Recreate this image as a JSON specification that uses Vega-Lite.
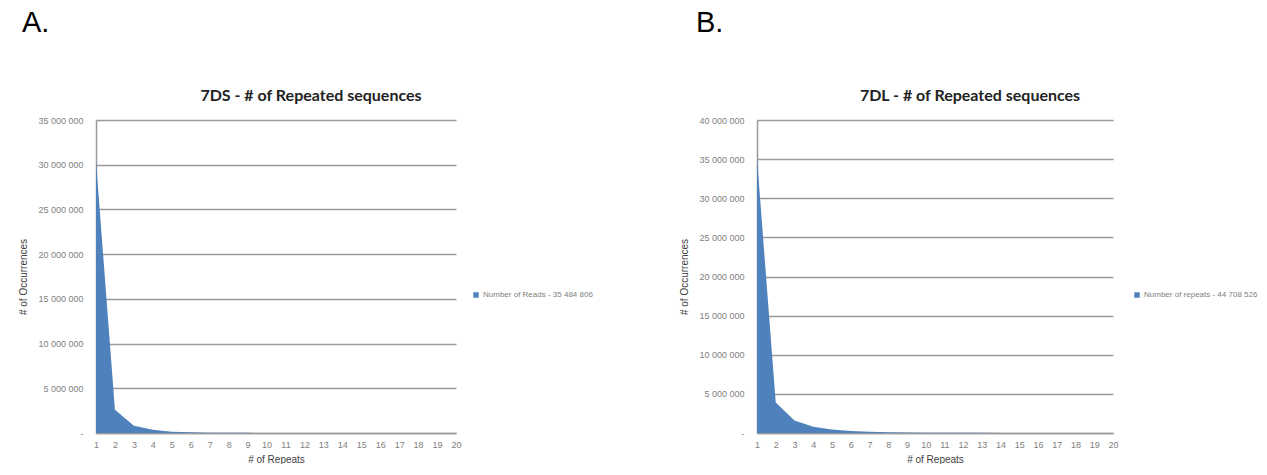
{
  "$schema": "https://vega.github.io/schema/vega-lite/v6.json",
  "padding": {"left": 18, "top": 9, "right": 0, "bottom": 0},
  "background": "white",
  "config": {
    "locale": {"number": {"decimal": ".", "thousands": " ", "grouping": [3], "currency": ["", ""]}},
    "view": {"stroke": null},
    "font": "Liberation Sans",
    "axis": {
      "labelFont": "Liberation Sans", "labelFontSize": 9, "labelColor": "#808080",
      "titleFont": "Liberation Sans", "titleFontSize": 10, "titleColor": "#404040", "titleFontWeight": "normal",
      "domainColor": "#9a9a9a", "domainWidth": 1.5, "ticks": false,
      "gridColor": "#9a9a9a", "gridWidth": 1.5
    },
    "legend": {"labelFont": "Liberation Sans", "labelFontSize": 8, "labelColor": "#808080", "symbolType": "square", "symbolSize": 30, "symbolStrokeWidth": 0, "labelLimit": 300, "labelOffset": 3}
  },
  "datasets": {
    "ds7DS": [
      {"repeats": 1, "occurrences": 30400000, "series": "Number of Reads - 35 484 806"},
      {"repeats": 2, "occurrences": 2600000, "series": "Number of Reads - 35 484 806"},
      {"repeats": 3, "occurrences": 800000, "series": "Number of Reads - 35 484 806"},
      {"repeats": 4, "occurrences": 350000, "series": "Number of Reads - 35 484 806"},
      {"repeats": 5, "occurrences": 150000, "series": "Number of Reads - 35 484 806"},
      {"repeats": 6, "occurrences": 70000, "series": "Number of Reads - 35 484 806"},
      {"repeats": 7, "occurrences": 40000, "series": "Number of Reads - 35 484 806"},
      {"repeats": 8, "occurrences": 25000, "series": "Number of Reads - 35 484 806"},
      {"repeats": 9, "occurrences": 15000, "series": "Number of Reads - 35 484 806"},
      {"repeats": 10, "occurrences": 10000, "series": "Number of Reads - 35 484 806"},
      {"repeats": 11, "occurrences": 8000, "series": "Number of Reads - 35 484 806"},
      {"repeats": 12, "occurrences": 6000, "series": "Number of Reads - 35 484 806"},
      {"repeats": 13, "occurrences": 5000, "series": "Number of Reads - 35 484 806"},
      {"repeats": 14, "occurrences": 4000, "series": "Number of Reads - 35 484 806"},
      {"repeats": 15, "occurrences": 3000, "series": "Number of Reads - 35 484 806"},
      {"repeats": 16, "occurrences": 2500, "series": "Number of Reads - 35 484 806"},
      {"repeats": 17, "occurrences": 2000, "series": "Number of Reads - 35 484 806"},
      {"repeats": 18, "occurrences": 1800, "series": "Number of Reads - 35 484 806"},
      {"repeats": 19, "occurrences": 1500, "series": "Number of Reads - 35 484 806"},
      {"repeats": 20, "occurrences": 1200, "series": "Number of Reads - 35 484 806"}
    ],
    "ds7DL": [
      {"repeats": 1, "occurrences": 35100000, "series": "Number of repeats - 44 708 526"},
      {"repeats": 2, "occurrences": 3900000, "series": "Number of repeats - 44 708 526"},
      {"repeats": 3, "occurrences": 1600000, "series": "Number of repeats - 44 708 526"},
      {"repeats": 4, "occurrences": 800000, "series": "Number of repeats - 44 708 526"},
      {"repeats": 5, "occurrences": 450000, "series": "Number of repeats - 44 708 526"},
      {"repeats": 6, "occurrences": 250000, "series": "Number of repeats - 44 708 526"},
      {"repeats": 7, "occurrences": 150000, "series": "Number of repeats - 44 708 526"},
      {"repeats": 8, "occurrences": 100000, "series": "Number of repeats - 44 708 526"},
      {"repeats": 9, "occurrences": 65000, "series": "Number of repeats - 44 708 526"},
      {"repeats": 10, "occurrences": 45000, "series": "Number of repeats - 44 708 526"},
      {"repeats": 11, "occurrences": 32000, "series": "Number of repeats - 44 708 526"},
      {"repeats": 12, "occurrences": 24000, "series": "Number of repeats - 44 708 526"},
      {"repeats": 13, "occurrences": 18000, "series": "Number of repeats - 44 708 526"},
      {"repeats": 14, "occurrences": 14000, "series": "Number of repeats - 44 708 526"},
      {"repeats": 15, "occurrences": 11000, "series": "Number of repeats - 44 708 526"},
      {"repeats": 16, "occurrences": 9000, "series": "Number of repeats - 44 708 526"},
      {"repeats": 17, "occurrences": 7500, "series": "Number of repeats - 44 708 526"},
      {"repeats": 18, "occurrences": 6000, "series": "Number of repeats - 44 708 526"},
      {"repeats": 19, "occurrences": 5000, "series": "Number of repeats - 44 708 526"},
      {"repeats": 20, "occurrences": 4000, "series": "Number of repeats - 44 708 526"}
    ]
  },
  "resolve": {"scale": {"color": "independent", "x": "independent", "y": "independent"}, "legend": {"color": "independent"}},
  "spacing": 86,
  "hconcat": [
    {
      "title": {"text": "A.", "anchor": "start", "fontSize": 29, "fontWeight": "normal", "font": "Liberation Sans", "color": "#000000", "offset": 50, "dx": 3},
      "vconcat": [
        {
          "title": {"text": "7DS - # of Repeated sequences", "fontSize": 16, "font": "Lato", "fontWeight": "bold", "color": "#222222", "dx": 35, "offset": 12},
          "width": 360,
          "height": 313,
          "data": {"name": "ds7DS"},
          "mark": {"type": "area", "opacity": 1},
          "encoding": {
            "x": {"field": "repeats", "type": "quantitative", "scale": {"domain": [1, 20], "nice": false, "zero": false},
              "axis": {"values": [1,2,3,4,5,6,7,8,9,10,11,12,13,14,15,16,17,18,19,20], "title": "# of Repeats", "grid": false, "labelPadding": 7, "titlePadding": 5, "labelFlush": false}},
            "y": {"field": "occurrences", "type": "quantitative", "scale": {"domain": [0, 35000000], "nice": false},
              "axis": {"values": [0,5000000,10000000,15000000,20000000,25000000,30000000,35000000], "format": ",d", "labelExpr": "datum.value == 0 ? '-' : datum.label", "title": "# of Occurrences", "labelPadding": 13, "titlePadding": 9}},
            "color": {"field": "series", "type": "nominal", "scale": {"range": ["#4F81BD"]},
              "legend": {"title": null, "orient": "none", "legendX": 376, "legendY": 171}}
          }
        }
      ]
    },
    {
      "title": {"text": "B.", "anchor": "start", "fontSize": 29, "fontWeight": "normal", "font": "Liberation Sans", "color": "#000000", "offset": 50, "dx": 16},
      "vconcat": [
        {
          "title": {"text": "7DL - # of Repeated sequences", "fontSize": 16, "font": "Lato", "fontWeight": "bold", "color": "#222222", "dx": 35, "offset": 12},
          "width": 356,
          "height": 313,
          "data": {"name": "ds7DL"},
          "mark": {"type": "area", "opacity": 1},
          "encoding": {
            "x": {"field": "repeats", "type": "quantitative", "scale": {"domain": [1, 20], "nice": false, "zero": false},
              "axis": {"values": [1,2,3,4,5,6,7,8,9,10,11,12,13,14,15,16,17,18,19,20], "title": "# of Repeats", "grid": false, "labelPadding": 7, "titlePadding": 5, "labelFlush": false}},
            "y": {"field": "occurrences", "type": "quantitative", "scale": {"domain": [0, 40000000], "nice": false},
              "axis": {"values": [0,5000000,10000000,15000000,20000000,25000000,30000000,35000000,40000000], "format": ",d", "labelExpr": "datum.value == 0 ? '-' : datum.label", "title": "# of Occurrences", "labelPadding": 13, "titlePadding": 9}},
            "color": {"field": "series", "type": "nominal", "scale": {"range": ["#4F81BD"]},
              "legend": {"title": null, "orient": "none", "legendX": 376, "legendY": 171}}
          }
        }
      ]
    }
  ]
}
